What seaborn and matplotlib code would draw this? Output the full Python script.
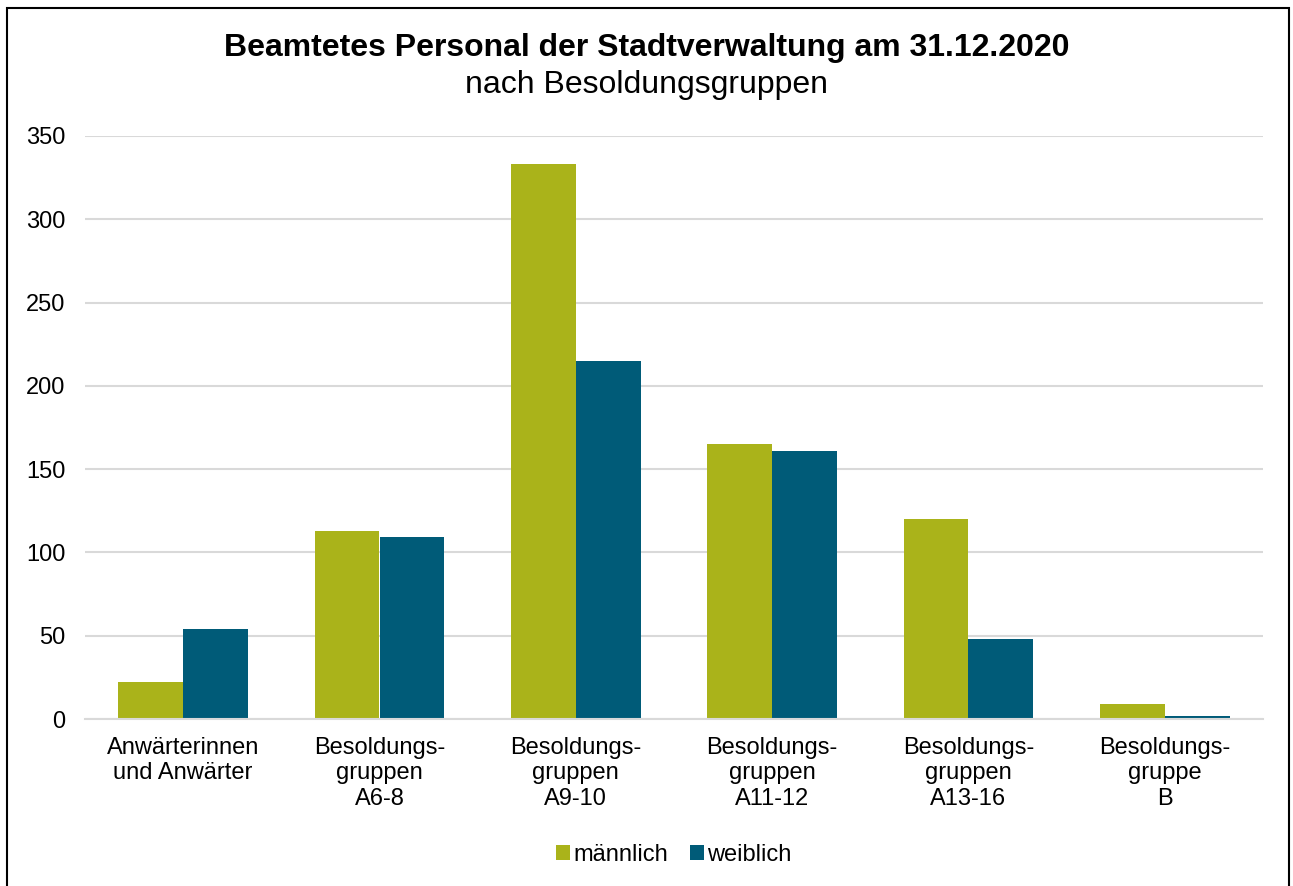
"""
Beamtetes Personal der Stadtverwaltung nach Besoldungsgruppen (31.12.2020).
"""

import pandas as pd
import matplotlib
matplotlib.use('Agg')
import matplotlib.pyplot as plt
from matplotlib.patches import Rectangle
import seaborn as sns

# Data
categories = ['Anwärterinnen\nund Anwärter', 'Besoldungs-\ngruppen\nA6-8',
              'Besoldungs-\ngruppen\nA9-10', 'Besoldungs-\ngruppen\nA11-12',
              'Besoldungs-\ngruppen\nA13-16', 'Besoldungs-\ngruppe\nB']
maennlich = [22, 113, 333, 165, 120, 9]
weiblich = [54, 109, 215, 161, 48, 2]
series = ['männlich', 'weiblich']
colors = ['#AAB31A', '#005B78']
yticks = [0, 50, 100, 150, 200, 250, 300, 350]

df = pd.DataFrame({
    'Gruppe': categories * 2,
    'Geschlecht': [series[0]] * len(categories) + [series[1]] * len(categories),
    'Anzahl': maennlich + weiblich,
})

sns.set_style('white')
plt.rcParams['font.family'] = ['Liberation Sans', 'DejaVu Sans']
plt.rcParams['text.color'] = 'black'

fig = plt.figure(figsize=(12.93, 8.86), dpi=100)
ax = fig.add_axes([85 / 1293, 1 - 719 / 886, 1178 / 1293, 583 / 886])

sns.barplot(data=df, x='Gruppe', y='Anzahl', hue='Geschlecht',
            palette=colors, width=0.66, saturation=1, ax=ax,
            edgecolor='none', legend=True)

ax.set_ylim(0, 350)
ax.set_xlim(-0.5, len(categories) - 0.5)
ax.set_yticks(yticks)
ax.yaxis.grid(True, color='#D9D9D9', linewidth=1.5)
ax.set_axisbelow(True)
for side in ['top', 'right', 'left']:
    ax.spines[side].set_visible(False)
ax.spines['bottom'].set_color('#D9D9D9')
ax.spines['bottom'].set_linewidth(1.5)
ax.set_xlabel('')
ax.set_ylabel('')
ax.tick_params(axis='both', length=0, labelsize=17, colors='black')
ax.tick_params(axis='x', pad=13)
ax.tick_params(axis='y', pad=14)

handles, labels = ax.get_legend_handles_labels()
ax.legend(handles, labels, loc='center', bbox_to_anchor=(0.5, (855 - 719) / -583),
          ncol=2, frameon=False, fontsize=17, handlelength=0.6,
          handleheight=0.6, handletextpad=0.15, columnspacing=0.9,
          labelcolor='black')

fig.text(0.5, 1 - 48 / 886, 'Beamtetes Personal der Stadtverwaltung am 31.12.2020',
         ha='center', va='center', fontsize=23, fontweight='bold', color='black')
fig.text(0.5, 1 - 85 / 886, 'nach Besoldungsgruppen',
         ha='center', va='center', fontsize=23, color='black')

# thin frame around the chart
fig.patches.append(Rectangle((7 / 1293, -0.01), 1282 / 1293, 1.01 - 8 / 886,
                             transform=fig.transFigure, fill=False,
                             edgecolor='black', linewidth=1.5))

fig.savefig('out.png', dpi=100)
